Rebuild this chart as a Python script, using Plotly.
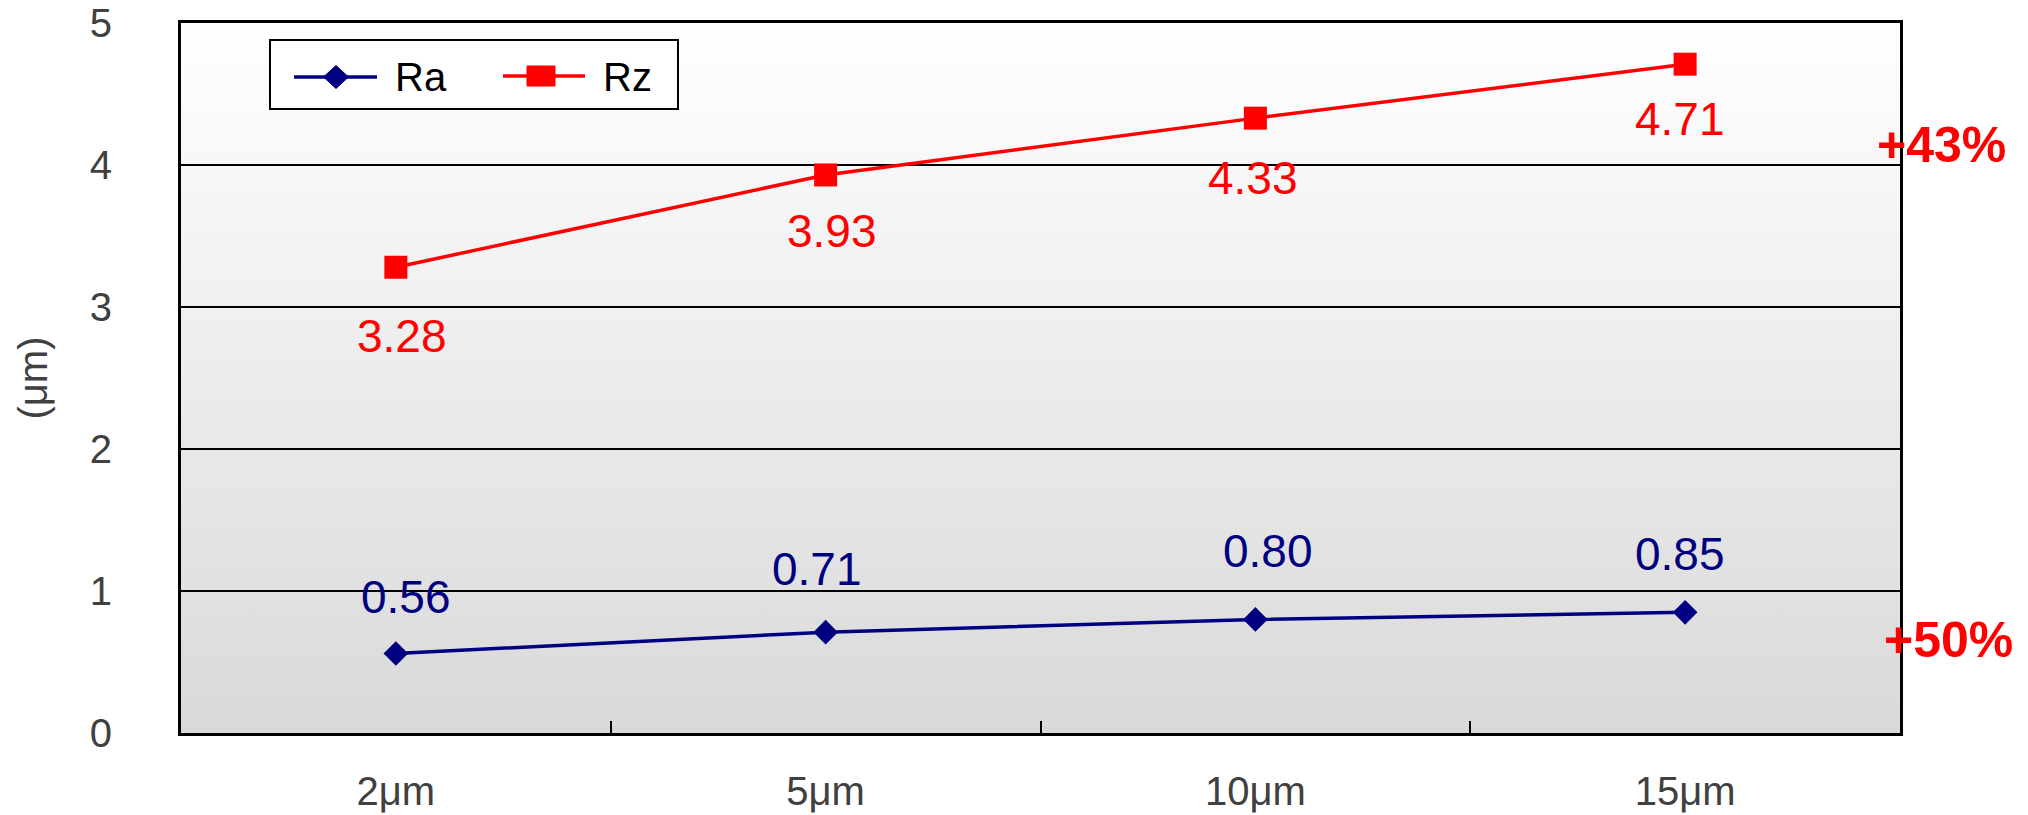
import base64
import plotly.graph_objects as go

# Surface roughness by grit size
categories = ["2μm", "5μm", "10μm", "15μm"]
ra_values = [0.56, 0.71, 0.80, 0.85]
rz_values = [3.28, 3.93, 4.33, 4.71]
y_tick_values = [0, 1, 2, 3, 4, 5]
rz_change_text = "+43%"
ra_change_text = "+50%"

RED = "#ff0000"
NAVY = "#000080"
TICK_GREY = "#404040"
FONT = "Liberation Sans, Arial, sans-serif"

W, H = 2028, 815
L, R, T, B = 181, 128, 23, 82
PW, PH = W - L - R, H - T - B


def px_x(px):
    return (px - L) / PW


def px_y(py):
    return (H - B - py) / PH


fig = go.Figure()

fig.add_trace(go.Scatter(
    x=categories, y=ra_values, name="Ra", mode="lines+markers",
    line=dict(color=NAVY, width=3.5),
    marker=dict(symbol="diamond", size=19, color=NAVY),
    showlegend=False,
))
fig.add_trace(go.Scatter(
    x=categories, y=rz_values, name="Rz", mode="lines+markers",
    line=dict(color=RED, width=3.5),
    marker=dict(symbol="square", size=23, color=RED),
    showlegend=False,
))

annotations = []
# value labels: Ra above its markers, Rz below
ra_shift = [(10, 56), (-9, 63), (13, 68), (-5, 58)]
rz_shift = [(6, -69), (6, -56), (-2, -60), (-5, -55)]
for c, v, (dx, dy) in zip(categories, ra_values, ra_shift):
    annotations.append(dict(x=c, y=v, xref="x", yref="y", text=f"{v:.2f}",
                            showarrow=False, xshift=dx, yshift=dy,
                            font=dict(family=FONT, size=46, color=NAVY)))
for c, v, (dx, dy) in zip(categories, rz_values, rz_shift):
    annotations.append(dict(x=c, y=v, xref="x", yref="y", text=f"{v:.2f}",
                            showarrow=False, xshift=dx, yshift=dy,
                            font=dict(family=FONT, size=46, color=RED)))

# growth callouts at the right edge
annotations.append(dict(x=px_x(1875), y=px_y(145), xref="paper", yref="paper",
                        text=f"<b>{rz_change_text}</b>", showarrow=False,
                        xanchor="left", yanchor="middle",
                        font=dict(family=FONT, size=50, color=RED)))
annotations.append(dict(x=px_x(1882), y=px_y(640), xref="paper", yref="paper",
                        text=f"<b>{ra_change_text}</b>", showarrow=False,
                        xanchor="left", yanchor="middle",
                        font=dict(family=FONT, size=50, color=RED)))

# legend box drawn by hand
shapes = [
    dict(type="rect", xref="paper", yref="paper",
         x0=px_x(270), x1=px_x(678), y0=px_y(109), y1=px_y(40),
         line=dict(color="black", width=2), fillcolor="white", layer="above"),
    dict(type="line", xref="paper", yref="paper",
         x0=px_x(294), x1=px_x(377), y0=px_y(77), y1=px_y(77),
         line=dict(color=NAVY, width=3.5), layer="above"),
    dict(type="path", xref="paper", yref="paper",
         xsizemode="pixel", ysizemode="pixel",
         xanchor=px_x(336), yanchor=px_y(77),
         path="M -12.5,0 L 0,11.5 L 12.5,0 L 0,-11.5 Z",
         fillcolor=NAVY, line=dict(color=NAVY, width=1), layer="above"),
    dict(type="line", xref="paper", yref="paper",
         x0=px_x(503), x1=px_x(585), y0=px_y(76), y1=px_y(76),
         line=dict(color=RED, width=3.5), layer="above"),
    dict(type="rect", xref="paper", yref="paper",
         x0=px_x(527), x1=px_x(555), y0=px_y(86), y1=px_y(66),
         fillcolor=RED, line=dict(color=RED, width=1), layer="above"),
]
annotations.append(dict(x=px_x(393), y=px_y(77), xref="paper", yref="paper",
                        text="Ra", showarrow=False, xanchor="left", yanchor="middle",
                        font=dict(family=FONT, size=40, color="black")))
annotations.append(dict(x=px_x(601), y=px_y(77), xref="paper", yref="paper",
                        text="Rz", showarrow=False, xanchor="left", yanchor="middle",
                        font=dict(family=FONT, size=40, color="black")))

# vertical white-to-grey backdrop for the plot area
svg = (
    '<svg xmlns="http://www.w3.org/2000/svg" width="100" height="100" '
    'viewBox="0 0 100 100" preserveAspectRatio="none">'
    '<defs><linearGradient id="g" x1="0" y1="0" x2="0" y2="1">'
    '<stop offset="0" stop-color="#ffffff"/>'
    '<stop offset="1" stop-color="#d9d9d9"/>'
    '</linearGradient></defs>'
    '<rect width="100" height="100" fill="url(#g)"/></svg>'
)
bg_src = "data:image/svg+xml;base64," + base64.b64encode(svg.encode()).decode()

fig.update_layout(
    width=W, height=H,
    margin=dict(l=L, r=R, t=T, b=B, autoexpand=False),
    paper_bgcolor="white",
    plot_bgcolor="rgba(0,0,0,0)",
    images=[dict(source=bg_src, xref="paper", yref="paper", x=0, y=1,
                 sizex=1, sizey=1, sizing="stretch", xanchor="left",
                 yanchor="top", layer="below")],
    shapes=shapes,
    annotations=annotations,
    font=dict(family=FONT),
)

fig.update_xaxes(
    type="category", categoryorder="array", categoryarray=categories,
    range=[-0.5, len(categories) - 0.5],
    tickson="boundaries", ticks="inside", ticklen=12, tickwidth=2,
    tickcolor="black", showgrid=False,
    showline=True, mirror=True, linecolor="black", linewidth=3,
    tickfont=dict(family=FONT, size=40, color=TICK_GREY),
    ticklabelstandoff=21,
)
fig.update_yaxes(
    range=[0, 5], tickvals=y_tick_values, ticks="",
    showgrid=True, gridcolor="black", gridwidth=2, zeroline=False,
    showline=True, mirror=True, linecolor="black", linewidth=3,
    tickfont=dict(family=FONT, size=40, color=TICK_GREY),
    ticklabelstandoff=58,
    title=dict(text="(μm)", standoff=30,
               font=dict(family=FONT, size=40, color=TICK_GREY)),
)

fig.write_html("out.html")
